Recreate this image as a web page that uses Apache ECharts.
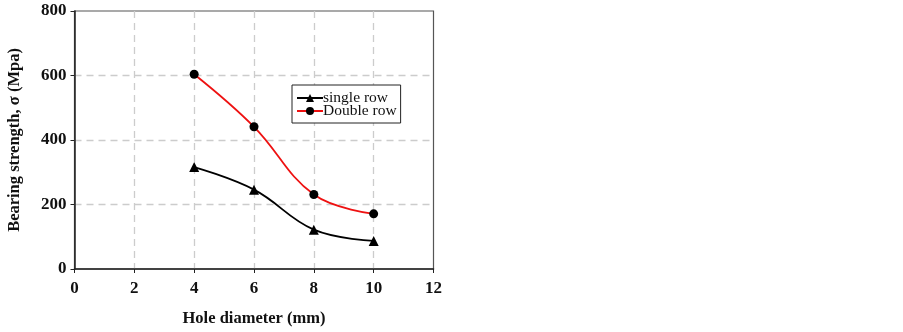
<!DOCTYPE html>
<html>
<head>
<meta charset="utf-8">
<script src="https://cdn.jsdelivr.net/npm/echarts@6/dist/echarts.min.js"></script>
<style>
  html, body { margin: 0; padding: 0; background: #fff; }
  #chart { width: 903px; height: 332px; }
</style>
</head>
<body>
<div id="chart"></div>
<script>
const holeDiameter = [4, 6, 8, 10]
const singleRow = [316, 246, 122, 87]
const doubleRow = [604, 441, 231, 171]
const xTicks = { min: 0, max: 12, interval: 2 }
const yTicks = { min: 0, max: 800, interval: 200 }

const chart = echarts.init(document.getElementById('chart'))
const font = 'Liberation Serif'

const axisCommon = {
  axisLine: { show: true, lineStyle: { color: '#222', width: 1.5 } },
  axisTick: { show: true, inside: false, length: 4, lineStyle: { color: '#222' } },
  axisLabel: { color: '#111', fontFamily: font, fontSize: 17, fontWeight: 'bold' },
  splitLine: {
    show: true, showMinLine: false, showMaxLine: false,
    lineStyle: { color: '#cccccc', type: [7, 5], width: 1.3 },
  },
  nameTextStyle: { color: '#111', fontFamily: font, fontSize: 16.5, fontWeight: 'bold' },
}

chart.setOption({
  animation: false,
  backgroundColor: '#fff',
  grid: {
    left: 74.5, top: 11, width: 359, height: 258,
    show: true, borderColor: '#555', borderWidth: 1.2, backgroundColor: 'transparent',
  },
  legend: {
    orient: 'vertical',
    left: 292, top: 85,
    backgroundColor: '#fff',
    borderColor: '#222', borderWidth: 1,
    padding: [5, 4, 4, 4],
    itemGap: -3,
    itemWidth: 26, itemHeight: 10,
    textStyle: { fontFamily: font, fontSize: 15.5, color: '#111', padding: [0, 0, 0, -5] },
    data: ['single row', 'Double row'],
  },
  xAxis: {
    type: 'value', ...xTicks,
    ...axisCommon,
    name: 'Hole diameter (mm)', nameLocation: 'middle', nameGap: 41,
    axisLabel: { ...axisCommon.axisLabel, margin: 11 },
  },
  yAxis: {
    type: 'value', ...yTicks,
    ...axisCommon,
    name: 'Bearing strength, σ (Mpa)', nameLocation: 'middle', nameGap: 51,
    axisLabel: { ...axisCommon.axisLabel, margin: 8 },
  },
  series: [
    {
      name: 'single row', type: 'line', smooth: 0.4,
      data: holeDiameter.map((x, i) => [x, singleRow[i]]),
      symbol: 'triangle', symbolSize: 10,
      lineStyle: { color: '#000', width: 1.8 },
      itemStyle: { color: '#000' },
    },
    {
      name: 'Double row', type: 'line', smooth: 0.4,
      data: holeDiameter.map((x, i) => [x, doubleRow[i]]),
      symbol: 'circle', symbolSize: 9,
      lineStyle: { color: '#ee1111', width: 1.8 },
      itemStyle: { color: '#000' },
    },
  ],
})
</script>
</body>
</html>
